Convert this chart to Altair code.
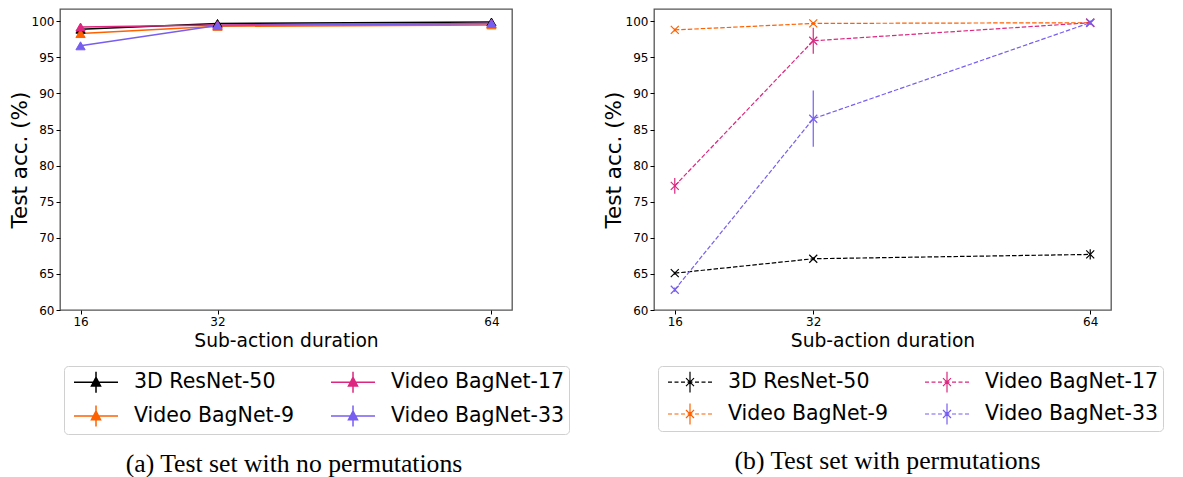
import altair as alt
import pandas as pd

durations = [16, 32, 64]
models = ["3D ResNet-50", "Video BagNet-9", "Video BagNet-17", "Video BagNet-33"]

# (a) no permutations
nop_resnet50 = [98.9, 99.7, 99.9]
nop_bag9 = [98.3, 99.3, 99.5]
nop_bag17 = [99.2, 99.5, 99.7]
nop_bag33 = [96.6, 99.4, 99.7]
nop_err_resnet50 = [0.2, 0.1, 0.1]
nop_err_bag9 = [0.2, 0.1, 0.1]
nop_err_bag17 = [0.2, 0.1, 0.1]
nop_err_bag33 = [0.3, 0.1, 0.1]

# (b) with permutations
perm_resnet50 = [65.1, 67.1, 67.7]
perm_bag9 = [98.8, 99.7, 99.8]
perm_bag17 = [77.2, 97.3, 99.8]
perm_bag33 = [62.8, 86.5, 99.8]
perm_err_resnet50 = [0.2, 0.2, 0.7]
perm_err_bag9 = [0.2, 0.2, 0.1]
perm_err_bag17 = [1.1, 1.8, 0.2]
perm_err_bag33 = [0.3, 3.9, 0.3]

colors = ["#000000", "#fe6100", "#dc267f", "#785ef0"]


def make_df(vals, errs):
    rows = []
    for m, v, e in zip(models, vals, errs):
        for d, a, s in zip(durations, v, e):
            rows.append({"duration": d, "model": m, "acc": a, "err": s})
    return pd.DataFrame(rows)


df_a = make_df([nop_resnet50, nop_bag9, nop_bag17, nop_bag33],
               [nop_err_resnet50, nop_err_bag9, nop_err_bag17, nop_err_bag33])
df_b = make_df([perm_resnet50, perm_bag9, perm_bag17, perm_bag33],
               [perm_err_resnet50, perm_err_bag9, perm_err_bag17, perm_err_bag33])

FONT = "DejaVu Sans"
scale = alt.Scale(domain=models, range=colors)

xscale = alt.Scale(domain=[13.6, 66.4], nice=False, zero=False)
yscale = alt.Scale(domain=[60, 101.7], nice=False, zero=False)

xaxis = alt.Axis(values=durations, title="Sub-action duration", titleFont=FONT,
                 titleFontSize=18.7, titleFontWeight="normal", titleColor="black",
                 labelFont=FONT, labelFontSize=12, labelColor="black",
                 tickColor="black", tickSize=4, labelPadding=2, titlePadding=4,
                 domain=False, grid=False)
yaxis = alt.Axis(values=[60, 65, 70, 75, 80, 85, 90, 95, 100], title="Test acc. (%)",
                 titleFont=FONT, titleFontSize=21.5, titleFontWeight="normal",
                 titleColor="black", labelFont=FONT, labelFontSize=12,
                 labelColor="black", tickColor="black", tickSize=4, labelPadding=2,
                 titlePadding=0, domain=False, grid=False)


def legend(path, sw):
    return alt.Legend(title=None, orient="none", legendX=4, legendY=357, columns=2,
                      symbolType=path, symbolSize=484, symbolStrokeWidth=sw,
                      labelFont=FONT, labelFontSize=20.5, labelColor="black",
                      labelOffset=42, columnPadding=30, rowPadding=6, padding=4,
                      strokeColor="#d0d0d0", fillColor="white", cornerRadius=4,
                      labelLimit=400)


# legend glyphs: unit = 11 px, drawn from x=-0.545 to x=3.455 (44 px), centre x=1.455
leg_a_path = ("M-0.545,0L3.455,0M1.455,-0.95L1.455,0.95"
              "M1.455,-0.45L1.865,0.33L1.045,0.33Z")
leg_b_path = ("M-0.545,0L-0.181,0M0.046,0L0.41,0M0.637,0L1,0M1.228,0L1.682,0"
              "M1.91,0L2.273,0M2.5,0L2.864,0M3.091,0L3.455,0"
              "M1.091,-0.364L1.819,0.364M1.091,0.364L1.819,-0.364"
              "M1.455,-0.95L1.455,0.95")
leg_a = legend(leg_a_path, 1.5)
leg_b = legend(leg_b_path, 1.2)

cap_font = "Liberation Serif"

# Panel (a)
base_a = alt.Chart(df_a).encode(
    x=alt.X("duration:Q", scale=xscale, axis=xaxis),
)
lines_a = base_a.mark_line(strokeWidth=1.5).encode(
    y=alt.Y("acc:Q", scale=yscale, axis=yaxis),
    stroke=alt.Stroke("model:N", scale=scale, legend=leg_a),
)
err_a = base_a.mark_rule(strokeWidth=1.5).transform_calculate(
    lo="datum.acc - datum.err", hi="datum.acc + datum.err"
).encode(
    y=alt.Y("lo:Q", scale=yscale, axis=yaxis),
    y2="hi:Q",
    stroke=alt.Stroke("model:N", scale=scale, legend=leg_a),
)
pts_a = base_a.mark_point(shape="triangle-up", filled=True, size=85, opacity=1,
                          strokeWidth=1).encode(
    y=alt.Y("acc:Q", scale=yscale, axis=yaxis),
    fill=alt.Fill("model:N", scale=scale, legend=leg_a),
    stroke=alt.Stroke("model:N", scale=scale, legend=leg_a),
)
panel_a = alt.layer(lines_a, err_a, pts_a).properties(
    width=452, height=301,
    title=alt.TitleParams("(a) Test set with no permutations", orient="bottom",
                          anchor="middle", font=cap_font, fontSize=25.7,
                          fontWeight="normal", color="black", offset=17, dx=8),
)

# Panel (b)
xmark = "M-1,-1L1,1M-1,1L1,-1"
base_b = alt.Chart(df_b).encode(
    x=alt.X("duration:Q", scale=xscale, axis=xaxis),
)
lines_b = base_b.mark_line(strokeWidth=1.2, strokeDash=[4.5, 2]).encode(
    y=alt.Y("acc:Q", scale=yscale, axis=yaxis),
    stroke=alt.Stroke("model:N", scale=scale, legend=leg_b),
)
err_b = base_b.mark_rule(strokeWidth=1.2).transform_calculate(
    lo="datum.acc - datum.err", hi="datum.acc + datum.err"
).encode(
    y=alt.Y("lo:Q", scale=yscale, axis=yaxis),
    y2="hi:Q",
    stroke=alt.Stroke("model:N", scale=scale, legend=leg_b),
)
pts_b = base_b.mark_point(shape=xmark, filled=False, size=64, opacity=1,
                          strokeWidth=1.2).encode(
    y=alt.Y("acc:Q", scale=yscale, axis=yaxis),
    stroke=alt.Stroke("model:N", scale=scale, legend=leg_b),
)
panel_b = alt.layer(lines_b, err_b, pts_b).properties(
    width=457, height=301,
    title=alt.TitleParams("(b) Test set with permutations", orient="bottom",
                          anchor="middle", font=cap_font, fontSize=25.7,
                          fontWeight="normal", color="black", offset=17, dx=5),
)

chart = alt.hconcat(panel_a, panel_b, spacing=31).resolve_scale(
    stroke="independent", fill="independent"
).resolve_legend(
    stroke="independent", fill="independent"
).properties(
    padding={"left": 0, "top": 0, "right": 0, "bottom": 0},
    background="white",
).configure_view(
    stroke="#555555", strokeWidth=1.3
)

chart.save("out.html", embed_options={"renderer": "svg", "actions": False})
